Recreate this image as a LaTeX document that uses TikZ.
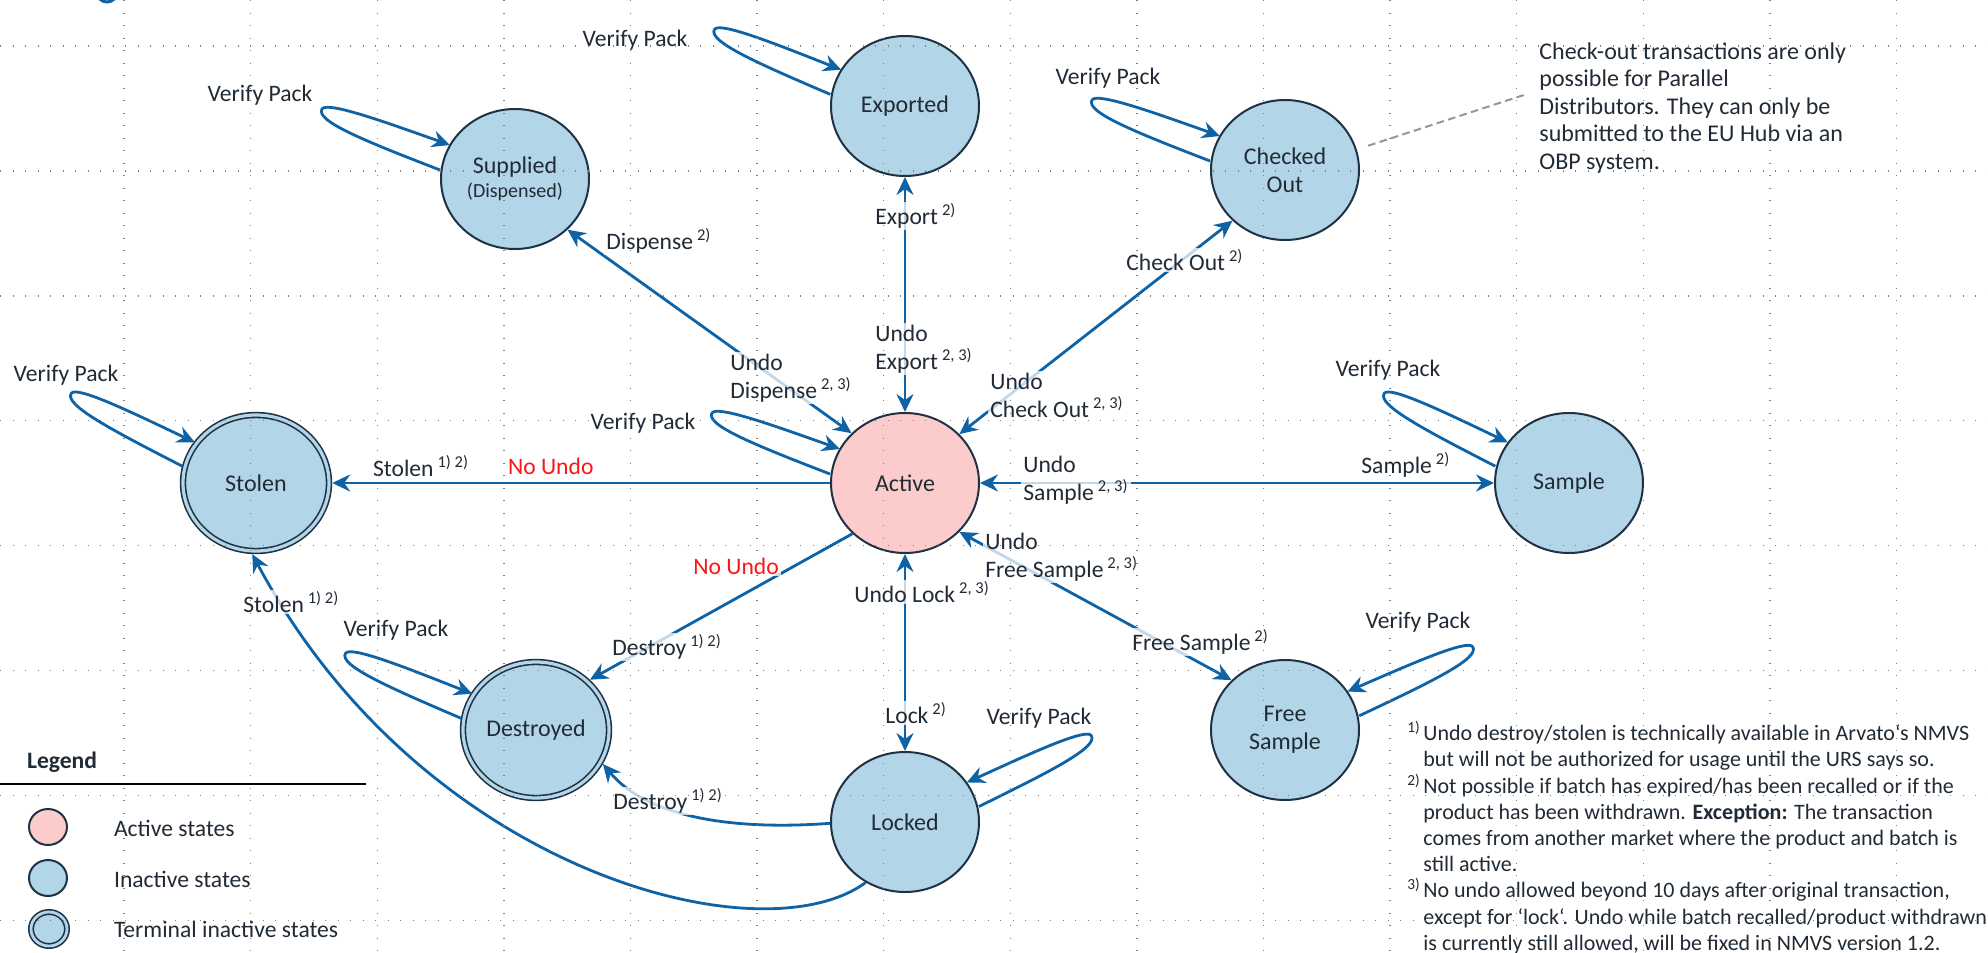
\documentclass[tikz,border=0pt]{standalone}
\usepackage{fontspec}
\setmainfont{Carlito}
\usetikzlibrary{arrows.meta,calc,shapes.geometric}
\definecolor{abl}{RGB}{14,99,167}
\definecolor{nfill}{RGB}{179,213,232}
\definecolor{pfill}{RGB}{252,204,204}
\definecolor{nbord}{RGB}{30,50,68}
\definecolor{txt}{RGB}{33,43,54}
\definecolor{nored}{RGB}{255,20,20}
\definecolor{notegray}{RGB}{150,150,150}
\newcommand\sps[1]{\,\textsuperscript{#1}}
\newcommand\vloopL[2]{\begin{scope}[shift={(#1.center)},rotate=#2]\draw[arr] (-75,-9) .. controls (-150,-38) and (-200,-58) .. (-193,-70) .. controls (-188,-78) and (-130,-57) .. (-65,-34);\end{scope}}
\newcommand\vloopR[2]{\begin{scope}[shift={(#1.center)},rotate=#2]\draw[arr] (75,-9) .. controls (150,-38) and (200,-58) .. (193,-70) .. controls (188,-78) and (130,-57) .. (65,-34);\end{scope}}
\begin{document}
\begin{tikzpicture}[x=0.5pt,y=-0.5pt,
  every node/.style={text=txt, font=\fontsize{11.8}{14}\selectfont},
  state/.style={ellipse, draw=nbord, line width=1pt, fill=nfill, minimum width=74pt, minimum height=70pt, inner sep=0pt, align=center, font=\fontsize{12}{14}\selectfont},
  activest/.style={state, fill=pfill},
  terminal/.style={state, double=nfill, double distance=1.6pt, line width=0.8pt, minimum width=73pt, minimum height=68pt, outer sep=1.6pt},
  tip/.tip={Stealth[length=9pt,width=8.5pt,inset=3pt]},
  arr/.style={draw=abl, line width=1.4pt, -tip},
  darr/.style={draw=abl, line width=1.4pt, tip-tip},
  lbl/.style={fill=white, fill opacity=0.75, text opacity=1, inner sep=1pt},
  lgst/.style={ellipse, draw=nbord, line width=1pt, minimum width=19pt, minimum height=18pt, inner sep=0pt},
  gridl/.style={line width=0.7pt, black!50, dash pattern=on 0.7pt off 5.55pt},
  notel/.style={draw=notegray, line width=1pt, dash pattern=on 3.8pt off 2.2pt}
]
\useasboundingbox (0,0) rectangle (1988,953);
\fill[white] (0,0) rectangle (1988,953);
\draw[abl, line width=1.5pt] (107,-8) circle[radius=10];

% states
\node[state] (sup) at (515,179) {Supplied\\[-2pt]{\fontsize{10}{12}\selectfont(Dispensed)}};
\node[state] (exp) at (905,106) {Exported};
\node[state] (chk) at (1285,170) {Checked\\Out};
\node[activest] (act) at (905,483) {Active};
\node[terminal] (sto) at (256,483) {Stolen};
\node[state] (smp) at (1569,483) {Sample};
\node[state] (fsm) at (1285,730) {Free\\Sample};
\node[state] (lck) at (905,822) {Locked};
\node[terminal] (des) at (536,730) {Destroyed};

% transitions
\draw[darr] (act.137) -- (sup.316);
\draw[darr] (act.north) -- (exp.south);
\draw[darr] (act.42) -- (chk.224);
\draw[darr] (act.east) -- (smp.west);
\draw[darr] (act.318) -- (fsm.137);
\draw[darr] (act.south) -- (lck.north);
\draw[arr] (act.west) -- (sto.east);
\draw[arr] (act.224) -- (des.43);
\draw[arr] (lck.181) .. controls (740,830) and (650,820) .. (des.333);
\draw[arr] (lck.237) .. controls (760,960) and (420,870) .. (sto.267);

% self loops
\vloopL{sup}{0}
\vloopL{exp}{-2}
\vloopL{chk}{0}
\vloopL{act}{0}
\vloopL{sto}{-6}
\vloopL{smp}{-6}
\vloopL{des}{-2}
\vloopR{fsm}{4}
\vloopR{lck}{5}

% verify pack labels
\node (vp1) at (260,95) {Verify Pack};
\node (vp2) at (635,40) {Verify Pack};
\node (vp3) at (1108,78) {Verify Pack};
\node (vp4) at (66,375) {Verify Pack};
\node (vp5) at (1388,370) {Verify Pack};
\node (vp6) at (643,423) {Verify Pack};
\node (vp7) at (396,630) {Verify Pack};
\node (vp8) at (1418,622) {Verify Pack};
\node (vp9) at (1039,718) {Verify Pack};

% transition labels
\node[lbl, anchor=west] (l1) at (604,241) {Dispense\sps{2)}};
\node[lbl, anchor=west, align=left] (l2) at (728,378) {Undo\\Dispense\sps{2, 3)}};
\node[lbl, anchor=west] (l3) at (873,216) {Export\sps{2)}};
\node[lbl, anchor=west, align=left] (l4) at (873,349) {Undo\\Export\sps{2, 3)}};
\node[lbl, anchor=west] (l5) at (1124,260) {Check Out\sps{2)}};
\node[lbl, anchor=west, align=left] (l6) at (988,395) {Undo\\Check Out\sps{2, 3)}};
\node[lbl, anchor=west, align=left] (l7) at (1021,480) {Undo\\Sample\sps{2, 3)}};
\node[lbl, anchor=west] (l8) at (1359,465) {Sample\sps{2)}};
\node[lbl, anchor=west, align=left] (l9) at (983,557) {Undo\\Free Sample\sps{2, 3)}};
\node[lbl, anchor=west] (l10) at (1130,642) {Free Sample\sps{2)}};
\node[lbl, anchor=west] (l11) at (852,592) {Undo Lock\sps{2, 3)}};
\node[lbl, anchor=west] (l12) at (883,713) {Lock\sps{2)}};
\node[lbl, anchor=west] (l13) at (610,647) {Destroy\sps{1) 2)}};
\node[lbl, anchor=west, text=nored] (l14) at (691,566) {No Undo};
\node[anchor=west] (l15) at (366,466) {Stolen\sps{1) 2)}};
\node[anchor=west, text=nored] (l16) at (501,466) {No Undo};
\node[lbl, anchor=west] (l17) at (241,602) {Stolen\sps{1) 2)}};
\node[lbl, anchor=west] (l18) at (611,801) {Destroy\sps{1) 2)}};

% check-out note
\node[anchor=north west, align=left, inner sep=0pt, font=\fontsize{12}{13.8}\selectfont] (note) at (1539,42) {Check-out transactions are only\\possible for Parallel\\Distributors. They can only be\\submitted to the EU Hub via an\\OBP system.};
\coordinate (noteEnd) at (1527,94);
\draw[notel, shorten <=6pt] (chk.16) -- (noteEnd);

% footnotes
\node[anchor=north west, align=left, inner sep=0pt, font=\fontsize{11}{13.1}\selectfont] (fn) at (1407,721) {%
\makebox[8pt][l]{\textsuperscript{1)}}Undo destroy/stolen is technically available in Arvato‘s NMVS\\
\hspace*{8pt}but will not be authorized for usage until the URS says so.\\
\makebox[8pt][l]{\textsuperscript{2)}}Not possible if batch has expired/has been recalled or if the\\
\hspace*{8pt}product has been withdrawn. \textbf{Exception:} The transaction\\
\hspace*{8pt}comes from another market where the product and batch is\\
\hspace*{8pt}still active.\\
\makebox[8pt][l]{\textsuperscript{3)}}No undo allowed beyond 10 days after original transaction,\\
\hspace*{8pt}except for ‘lock‘. Undo while batch recalled/product withdrawn\\
\hspace*{8pt}is currently still allowed, will be fixed in NMVS version 1.2.};

% legend
\node[anchor=west, font=\bfseries\fontsize{11.8}{14}\selectfont] (leg) at (20,762) {Legend};
\coordinate (legL) at (0,784);
\coordinate (legR) at (366,784);
\draw[black, line width=1.2pt] (legL) -- (legR);
\node[lgst, fill=pfill] (lg1) at (48,827) {};
\node[lgst, fill=nfill] (lg2) at (48,878) {};
\node[lgst, fill=nfill, double=nfill, double distance=1.4pt, line width=0.8pt, minimum width=18pt, minimum height=17pt] (lg3) at (49,929) {};
\node[anchor=west] (lt1) at (107,828) {Active states};
\node[anchor=west] (lt2) at (107,879) {Inactive states};
\node[anchor=west] (lt3) at (107,929) {Terminal inactive states};

% grid (drawn on top, as in the reference)
\foreach \gx in {0,...,14} \draw[gridl] ({124+126.6*\gx},0) -- ({124+126.6*\gx},953);
\foreach \gy in {0,...,7} \draw[gridl] (0,{46+124.9*\gy}) -- (1988,{46+124.9*\gy});
\end{tikzpicture}
\end{document}
